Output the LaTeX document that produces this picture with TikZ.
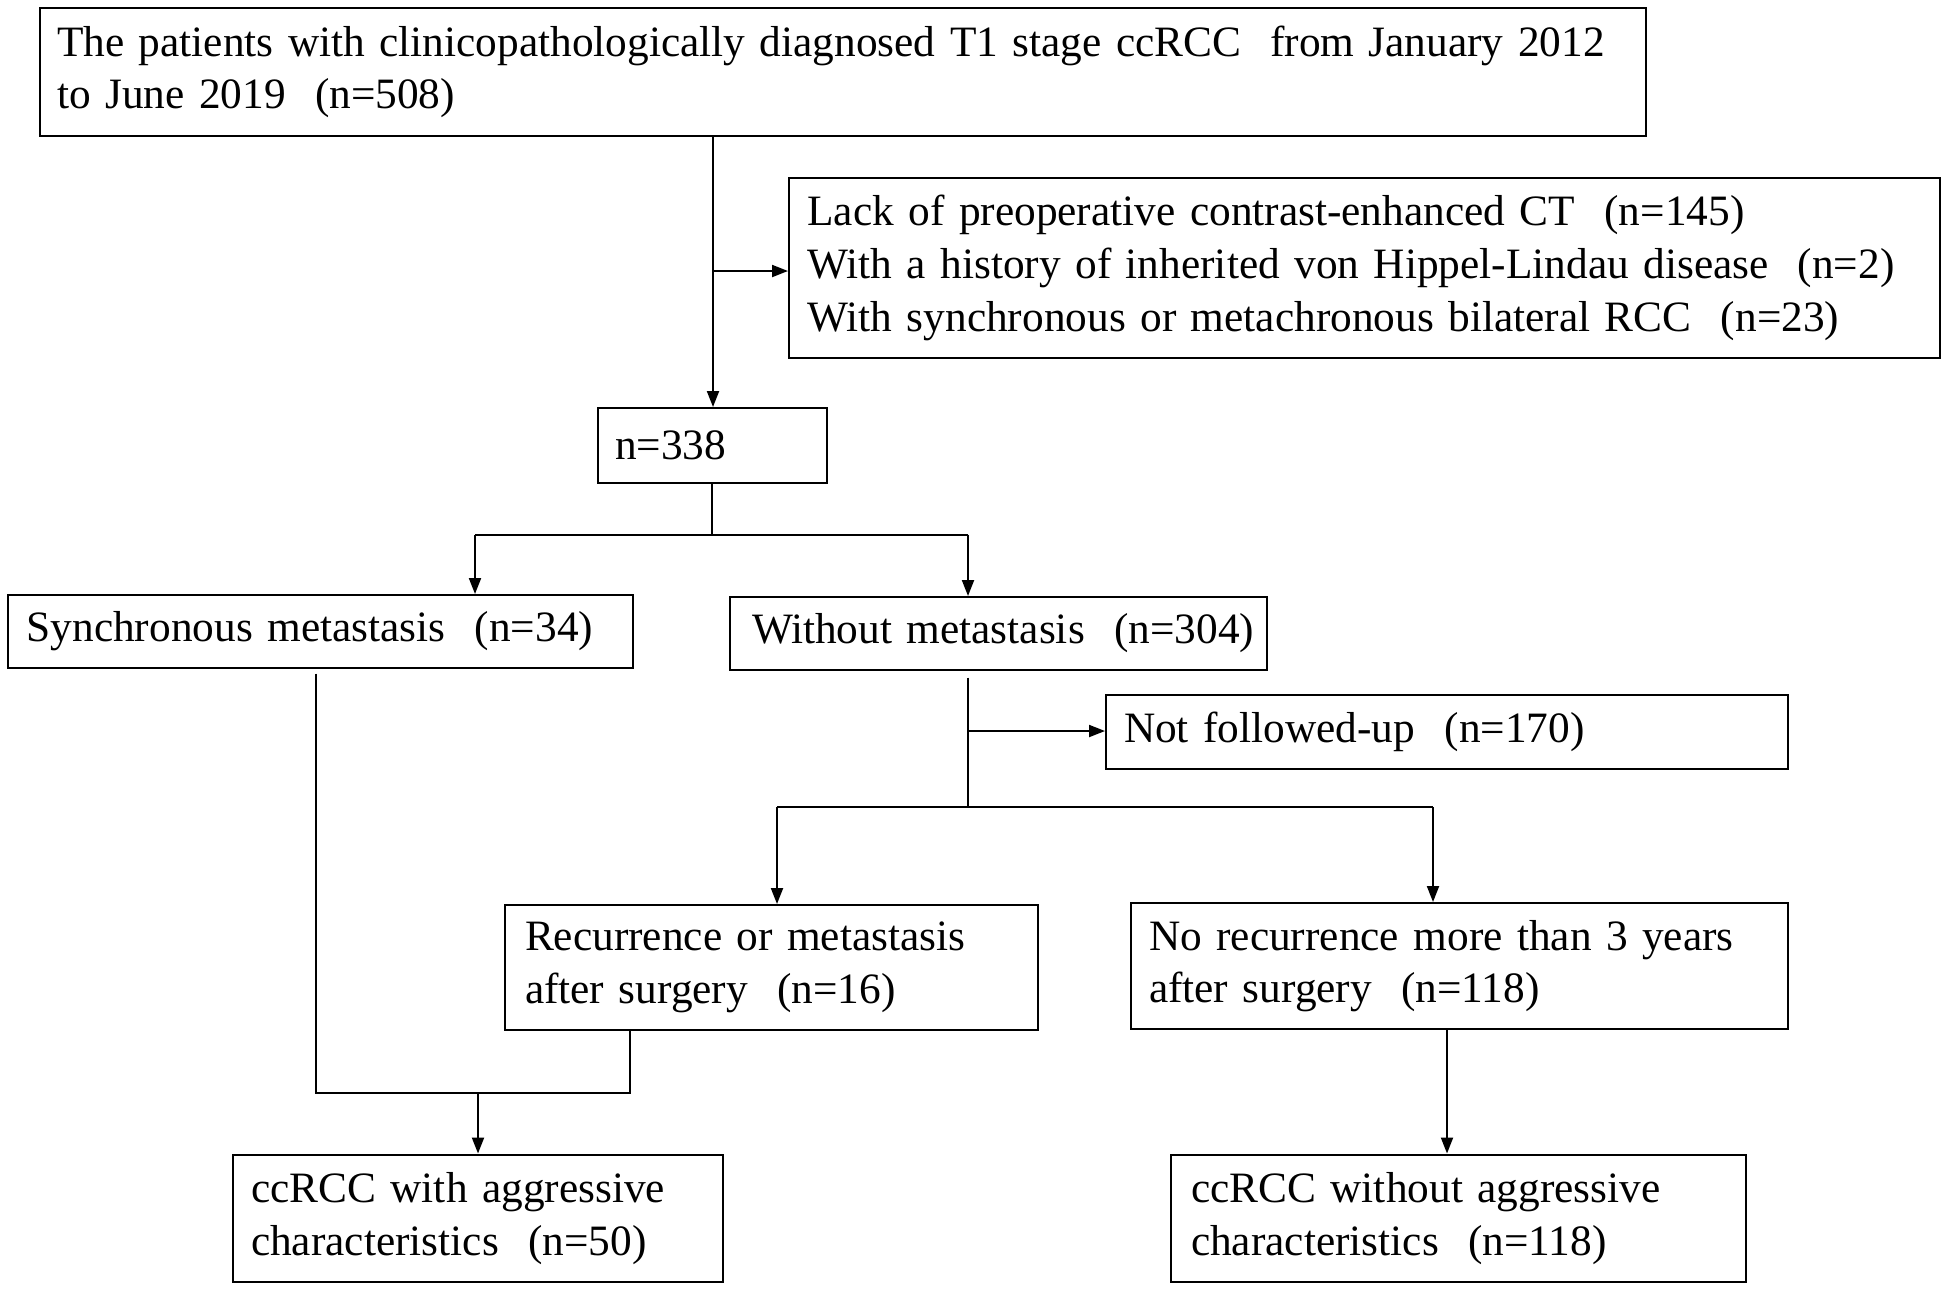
\documentclass[tikz,border=0pt]{standalone}
\usepackage{fontspec}
\setmainfont{Liberation Serif}
\usetikzlibrary{arrows.meta}
\newdimen\px \px=0.75pt
\newcommand\pg{\hspace{22pt}}
\begin{document}
\begin{tikzpicture}[x=0.75pt,y=-0.75pt,
  box/.style={draw, line width=1.5pt, rectangle, inner ysep=0pt, align=left,
    font=\fontsize{32.5}{39.5}\selectfont},
  conn/.style={line width=1.5pt},
  arr/.style={conn, -{Triangle[length=12pt,width=9pt]}}]
\useasboundingbox (0,0) rectangle (1949,1290);
\fill[white] (0,0) rectangle (1949,1290);

\node[box, minimum width=1606.5\px, minimum height=128\px, inner xsep=17.5\px, text width=1571.5\px] (top) at (842.75,72)
  {\mbox{The patients with clinicopathologically diagnosed T1 stage ccRCC\ \ from January 2012}\\\mbox{to June 2019\pg(n=508)}};
\node[box, minimum width=1151\px, minimum height=180.4\px, inner xsep=18.5\px, text width=1114\px] (excl) at (1364.5,267.8)
  {\mbox{Lack of preoperative contrast-enhanced CT\pg(n=145)}\\\mbox{With a history of inherited von Hippel-Lindau disease\pg(n=2)}\\\mbox{With synchronous or metachronous bilateral RCC\pg(n=23)}};
\node[box, minimum width=228.5\px, minimum height=75\px, inner xsep=17\px, text width=194.5\px] (n338) at (712.25,445.5) {n=338};
\node[box, minimum width=625\px, minimum height=73\px, inner xsep=19\px, text width=587\px] (sync) at (320.15,631.5) {\mbox{Synchronous metastasis\pg(n=34)}};
\node[box, minimum width=537\px, minimum height=73\px, inner xsep=22\px, text width=493\px] (without) at (998.5,633.5) {\mbox{Without metastasis\pg(n=304)}};
\node[box, minimum width=682\px, minimum height=73.5\px, inner xsep=18\px, text width=646\px] (notf) at (1447,731.75) {\mbox{Not followed-up\pg(n=170)}};
\node[box, minimum width=533\px, minimum height=125\px, inner xsep=20\px, text width=493\px] (recur) at (771.5,967.5) {\mbox{Recurrence or metastasis}\\\mbox{after surgery\pg(n=16)}};
\node[box, minimum width=657\px, minimum height=126\px, inner xsep=18\px, text width=621\px] (norec) at (1459.5,966) {\mbox{No recurrence more than 3 years}\\\mbox{after surgery\pg(n=118)}};
\node[box, minimum width=489.6\px, minimum height=127.5\px, inner xsep=18\px, text width=453.6\px] (aggr) at (477.8,1218.25) {\mbox{ccRCC with aggressive}\\\mbox{characteristics\pg(n=50)}};
\node[box, minimum width=575\px, minimum height=127.5\px, inner xsep=20\px, text width=535\px] (noaggr) at (1458.5,1218.25) {\mbox{ccRCC without aggressive}\\\mbox{characteristics\pg(n=118)}};

\coordinate (j1) at (713,271);
\coordinate (sL) at (475,534.5);
\coordinate (sR) at (968,534.5);
\coordinate (w1) at (968,731);
\coordinate (w2) at (968,807);
\coordinate (wL) at (777,807);
\coordinate (wR) at (1433,807);
\coordinate (a1) at (316,1093);
\coordinate (a2) at (630,1093);
\coordinate (a3) at (478,1093);
\coordinate (b1) at (1447,1029);

\draw[conn] (top.south -| j1) -- (j1);
\draw[arr] (j1) -- (n338.north -| j1);
\draw[arr] (j1) -- (excl.west |- j1);
\draw[conn] (n338.south) -- (n338.south |- sL);
\draw[conn] (sL) -- (sR);
\draw[arr] (sL) -- (sync.north -| sL);
\draw[arr] (sR) -- (without.north -| sR);
\draw[conn, shorten <=5pt] (without.south -| w2) -- (w2);
\draw[arr] (w1) -- (notf.west |- w1);
\draw[conn] (wL) -- (wR);
\draw[arr] (wL) -- (recur.north -| wL);
\draw[arr] (wR) -- (norec.north -| wR);
\draw[conn, shorten <=3.5pt] (sync.south -| a1) -- (a1) -- (a2) -- (recur.south -| a2);
\draw[arr] (a3) -- (aggr.north -| a3);
\draw[arr] (norec.south -| b1) -- (noaggr.north -| b1);
\end{tikzpicture}
\end{document}
